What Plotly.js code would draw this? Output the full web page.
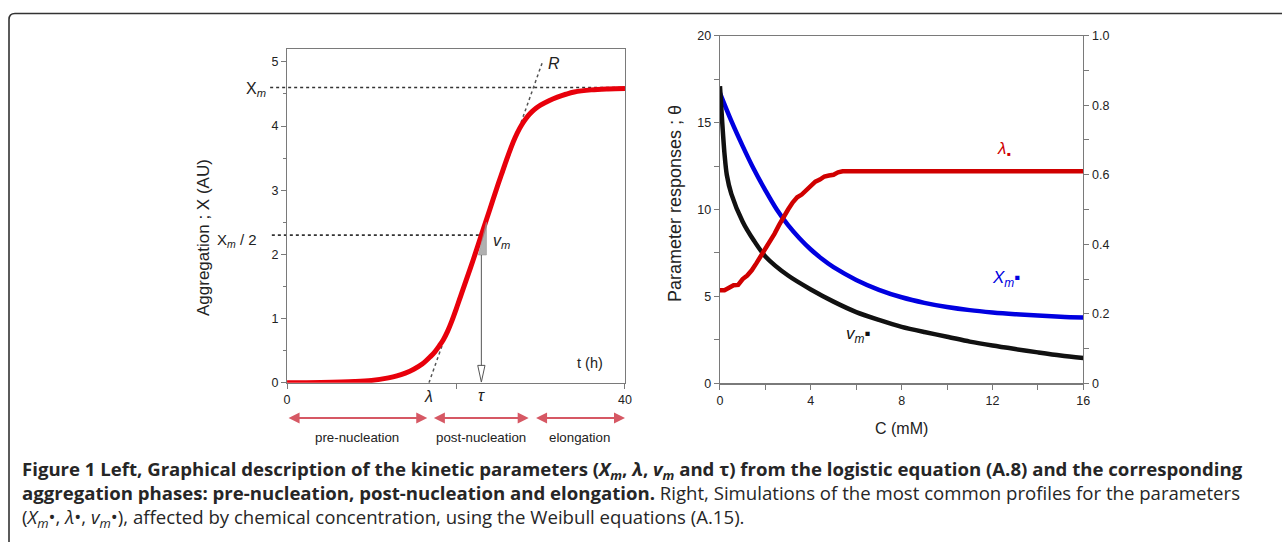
<!DOCTYPE html>
<html>
<head>
<meta charset="utf-8">
<script src="https://cdn.plot.ly/plotly-3.0.1.min.js"></script>
<style>
  html, body { margin: 0; padding: 0; background: #fff; }
  #chart { width: 1282px; height: 542px; }
</style>
</head>
<body>
<div id="chart"></div>
<script>
// ---------- Left panel: logistic aggregation curve ----------
const timeH = [0, 4, 8, 10, 12, 13, 14, 15, 16, 17, 17.5, 18, 18.5, 19, 19.5, 20, 20.5, 21, 22, 23, 24, 25, 25.5, 26, 26.5, 27, 27.5, 28, 28.5, 29, 29.5, 30, 31, 32, 33, 34, 36, 38, 40];
const aggregation = [0.0, 0.005, 0.018, 0.035, 0.075, 0.105, 0.15, 0.21, 0.29, 0.41, 0.48, 0.57, 0.67, 0.8, 0.96, 1.14, 1.33, 1.52, 1.9, 2.3, 2.7, 3.1, 3.29, 3.48, 3.66, 3.82, 3.955, 4.065, 4.155, 4.225, 4.28, 4.325, 4.395, 4.45, 4.495, 4.53, 4.563, 4.578, 4.585];
const Xm = 4.6;
const lambdaT = 16.8;
const tauT = 23.0;
const vmSlope = 0.372;
const leftXTicks = [0, 20, 40];
const leftXTickText = ['0', '', '40'];
const phaseNames = ['pre-nucleation', 'post-nucleation', 'elongation'];
const phaseStart = [0, 17.2, 29.3];
const phaseEnd = [16.6, 28.6, 40];

// ---------- Right panel: parameter responses vs concentration ----------
const concXm = [0, 0.5, 1, 1.5, 2, 2.5, 3, 3.5, 4, 4.5, 5, 6, 7, 8, 9, 10, 11, 12, 13, 14, 15, 16];
const xmResp = [16.7, 15.1, 13.65, 12.3, 11.1, 10.0, 9.1, 8.35, 7.7, 7.15, 6.68, 5.95, 5.38, 4.95, 4.63, 4.39, 4.21, 4.08, 3.98, 3.9, 3.83, 3.78];
const concVm = [0, 0.1, 0.2, 0.3, 0.5, 1, 1.5, 2, 3, 4, 5, 6, 7, 8, 9, 10, 11, 12, 13, 14, 15, 16];
const vmResp = [17.1, 15.0, 13.2, 12.0, 10.9, 9.3, 8.2, 7.3, 6.2, 5.4, 4.7, 4.1, 3.65, 3.25, 2.95, 2.68, 2.4, 2.17, 1.97, 1.78, 1.6, 1.45];
const concLam = [0, 0.2, 0.4, 0.6, 0.8, 1.0, 1.2, 1.4, 1.6, 1.8, 2.0, 2.2, 2.4, 2.6, 2.8, 3.0, 3.2, 3.4, 3.6, 3.8, 4.0, 4.2, 4.4, 4.6, 4.8, 5.0, 5.2, 5.4, 16];
const lamResp = [0.268, 0.268, 0.275, 0.282, 0.283, 0.3, 0.31, 0.325, 0.345, 0.365, 0.385, 0.41, 0.43, 0.455, 0.48, 0.5, 0.52, 0.535, 0.543, 0.555, 0.568, 0.58, 0.586, 0.595, 0.598, 0.6, 0.607, 0.61, 0.61];
const rightYTicks = [0, 0.2, 0.4, 0.6, 0.8, 1.0];
const rightYTickText = ['0', '0.2', '0.4', '0.6', '0.8', '1.0'];

const FONT = 'Liberation Sans, Arial, sans-serif';
const TXT = '#222';
const AX = '#7a7a7a';

const traces = [
  { x: timeH, y: aggregation, xaxis: 'x', yaxis: 'y', mode: 'lines', line: { color: '#e8000b', width: 5, shape: 'spline', smoothing: 1 }, hoverinfo: 'skip' },
  { x: concXm, y: xmResp, xaxis: 'x2', yaxis: 'y2', mode: 'lines', line: { color: '#0000e0', width: 4.5, shape: 'spline', smoothing: 1 }, hoverinfo: 'skip' },
  { x: concVm, y: vmResp, xaxis: 'x2', yaxis: 'y2', mode: 'lines', line: { color: '#111', width: 4.5, shape: 'spline', smoothing: 0.8 }, hoverinfo: 'skip' },
  { x: concLam, y: lamResp, xaxis: 'x2', yaxis: 'y3', mode: 'lines', line: { color: '#d00000', width: 4.5 }, hoverinfo: 'skip' }
];

const tauFrac = tauT / 40;
const shapes = [
  // outer rounded frame
  { type: 'path', xref: 'paper', yref: 'paper', path: 'M 0.00702,-0.1 L 0.00702,0.9640 Q 0.00702,0.9751 0.0117,0.9751 L 1.1,0.9751', line: { color: '#333', width: 1.6 } },
  // Xm horizontal dotted line
  { type: 'line', xref: 'x domain', yref: 'y', x0: -0.05, x1: 1, y0: Xm, y1: Xm, layer: 'below', line: { color: '#333', width: 1.6, dash: 'dot' } },
  // Xm/2 dotted line
  { type: 'line', xref: 'x domain', yref: 'y', x0: -0.045, x1: tauFrac, y0: Xm / 2, y1: Xm / 2, layer: 'below', line: { color: '#333', width: 1.6, dash: 'dot' } },
  // tangent R
  { type: 'line', xref: 'x', yref: 'y', x0: lambdaT, y0: 0, x1: lambdaT + 5 / vmSlope, y1: 5, layer: 'below', line: { color: '#555', width: 1.5, dash: 'dot' } },
  // slope triangle
  { type: 'path', xref: 'x', yref: 'y', path: 'M 22.65,1.99 L 23.6,1.99 L 23.6,2.5 Z', fillcolor: 'rgba(150,150,150,0.75)', line: { color: '#999', width: 0.6 } },
  // tau arrow shaft
  { type: 'line', xref: 'x', yref: 'y', x0: tauT, x1: tauT, y0: 1.99, y1: 0.26, line: { color: '#555', width: 1 } },
  // tau arrow open head
  { type: 'path', xref: 'x', yref: 'y', path: 'M 22.57,0.27 L 23.43,0.27 L 23.0,0.01 Z', fillcolor: '#fff', line: { color: '#555', width: 1 } }
];

const annotations = [];
function ann(o) { annotations.push(Object.assign({ showarrow: false, xanchor: 'center', yanchor: 'middle', font: { family: FONT, size: 14, color: TXT } }, o)); }

// left panel labels
ann({ xref: 'paper', yref: 'paper', x: 203 / 1282, y: 1 - 238 / 542, text: 'Aggregation ; X (AU)', textangle: -90, font: { family: FONT, size: 17, color: TXT } });
ann({ xref: 'paper', yref: 'paper', x: 268 / 1282, y: 1 - 89 / 542, xanchor: 'right', text: 'X<sub><i>m</i></sub>', font: { family: FONT, size: 16, color: TXT } });
ann({ xref: 'paper', yref: 'paper', x: 259 / 1282, y: 1 - 240 / 542, xanchor: 'right', text: 'X<sub><i>m</i></sub> / 2', font: { family: FONT, size: 15, color: TXT } });
ann({ xref: 'x', yref: 'y', x: 31.6, y: 4.98, text: '<i>R</i>', font: { family: FONT, size: 16, color: TXT } });
ann({ xref: 'x', yref: 'y', x: 25.4, y: 2.2, text: '<i>v<sub>m</sub></i>', font: { family: FONT, size: 16, color: TXT } });
ann({ xref: 'x', yref: 'y', x: 35.9, y: 0.3, text: 't (h)', font: { family: FONT, size: 14.5, color: TXT } });
ann({ xref: 'x', yref: 'paper', x: lambdaT, y: 1 - 396 / 542, text: '<i>λ</i>', font: { family: FONT, size: 16, color: TXT } });
ann({ xref: 'x', yref: 'paper', x: tauT, y: 1 - 395 / 542, text: '<i>τ</i>', font: { family: FONT, size: 16, color: TXT } });

// phase arrows and labels
for (let i = 0; i < phaseNames.length; i++) {
  annotations.push({ xref: 'x', yref: 'paper', x: phaseEnd[i], y: 1 - 418 / 542, axref: 'x', ayref: 'pixel', ax: phaseStart[i], ay: 0,
    text: '', showarrow: true, arrowside: 'end+start', arrowhead: 2, arrowsize: 1, arrowwidth: 2.2, arrowcolor: '#d65864', standoff: 0, startstandoff: 0 });
  ann({ xref: 'x', yref: 'paper', x: (phaseStart[i] + phaseEnd[i]) / 2, y: 1 - 437 / 542, text: phaseNames[i], font: { family: FONT, size: 13.3, color: TXT } });
}

// right panel labels
ann({ xref: 'paper', yref: 'paper', x: 675 / 1282, y: 1 - 204 / 542, text: 'Parameter responses ; θ', textangle: -90, font: { family: FONT, size: 18, color: TXT } });
ann({ xref: 'paper', yref: 'paper', x: 901 / 1282, y: 1 - 428 / 542, text: 'C (mM)', font: { family: FONT, size: 16, color: TXT } });
ann({ xref: 'x2', yref: 'y2', x: 12.5, y: 13.4, text: '<i>λ</i><sub>▪</sub>', font: { family: FONT, size: 17, color: '#d00000' } });
ann({ xref: 'x2', yref: 'y2', x: 12.6, y: 6.0, text: '<i>X<sub>m</sub></i>▪', font: { family: FONT, size: 17, color: '#0000e0' } });
ann({ xref: 'x2', yref: 'y2', x: 6.1, y: 2.8, text: '<i>v<sub>m</sub></i>▪', font: { family: FONT, size: 17, color: '#111' } });

// caption (one block; line spacing 1.3em)
const CAPF = 'Open Sans, Noto Sans, sans-serif';
const capLines = [
  '<b>Figure 1 Left, Graphical description of the kinetic parameters (<i>X<sub>m</sub></i>, <i>λ</i>, <i>v<sub>m</sub></i> and τ) from the logistic equation (A.8) and the corresponding</b>',
  '<b>aggregation phases: pre-nucleation, post-nucleation and elongation.</b> Right, Simulations of the most common profiles for the parameters',
  '(<i>X<sub>m</sub></i>•, <i>λ</i>•, <i>v<sub>m</sub></i>•), affected by chemical concentration, using the Weibull equations (A.15).'
];
ann({ xref: 'paper', yref: 'paper', x: 20 / 1282, y: 1 - 494 / 542, xanchor: 'left', yanchor: 'middle', align: 'left',
  text: capLines.join('<br>'), font: { family: CAPF, size: 18.6, color: '#262626' } });

const tickFont = { family: FONT, size: 12.5, color: TXT };
const layout = {
  width: 1282, height: 542,
  margin: { l: 0, r: 0, t: 0, b: 0 },
  paper_bgcolor: '#fff', plot_bgcolor: 'rgba(0,0,0,0)',
  showlegend: false,
  xaxis: { domain: [0.2239, 0.4875], range: [0, 40], anchor: 'y', tickvals: leftXTicks, ticktext: leftXTickText,
    ticks: 'outside', ticklen: 5, tickcolor: AX, showgrid: false, zeroline: false, showline: true, linecolor: AX, linewidth: 1.2, mirror: true, tickfont: tickFont },
  yaxis: { domain: [0.2939, 0.9096], range: [0, 5.2], anchor: 'x', dtick: 1, ticks: 'outside', ticklen: 5, tickcolor: AX,
    minor: { dtick: 0.5, ticks: 'outside', ticklen: 3, tickcolor: AX },
    showgrid: false, zeroline: false, showline: true, linecolor: AX, linewidth: 1.2, mirror: true, tickfont: tickFont },
  xaxis2: { domain: [0.5616, 0.8450], range: [0, 16], anchor: 'y2', dtick: 4, ticks: 'outside', ticklen: 5, tickcolor: AX,
    minor: { dtick: 2, ticks: 'outside', ticklen: 5, tickcolor: AX },
    showgrid: false, zeroline: false, showline: true, linecolor: AX, linewidth: 1.2, mirror: true, tickfont: tickFont },
  yaxis2: { domain: [0.2928, 0.9341], range: [0, 20], anchor: 'x2', dtick: 5, ticks: 'outside', ticklen: 5, tickcolor: AX,
    minor: { dtick: 2.5, ticks: 'outside', ticklen: 5, tickcolor: AX },
    showgrid: false, zeroline: false, showline: true, linecolor: AX, linewidth: 1.2, tickfont: tickFont },
  yaxis3: { overlaying: 'y2', side: 'right', anchor: 'x2', range: [0, 1], tickvals: rightYTicks, ticktext: rightYTickText,
    ticks: 'outside', ticklen: 5, tickcolor: AX, minor: { dtick: 0.1, ticks: 'outside', ticklen: 5, tickcolor: AX },
    showgrid: false, zeroline: false, showline: true, linecolor: AX, linewidth: 1.2, tickfont: tickFont },
  shapes: shapes,
  annotations: annotations
};

Plotly.newPlot('chart', traces, layout, { staticPlot: true, displayModeBar: false });
</script>
</body>
</html>
